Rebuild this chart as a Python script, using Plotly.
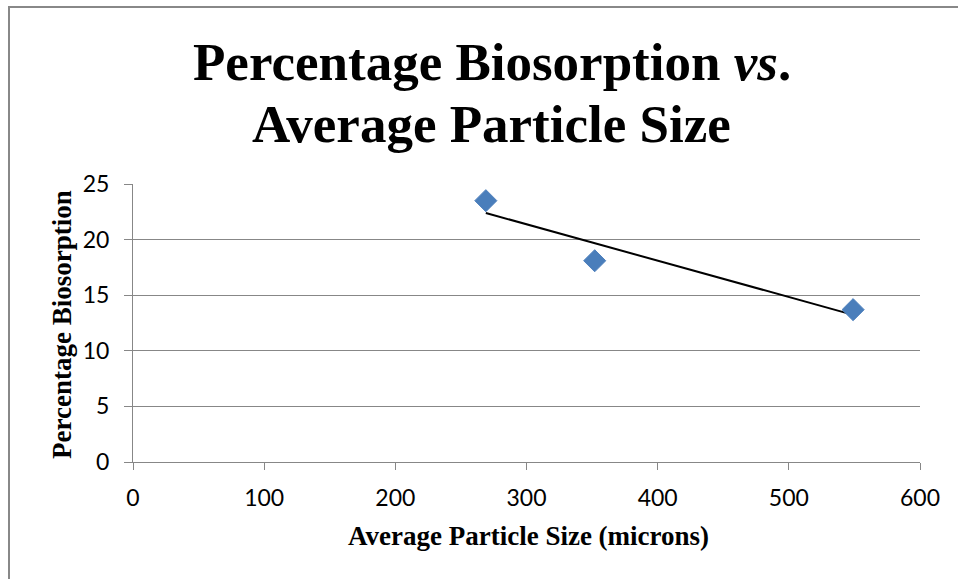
import numpy as np
import plotly.graph_objects as go

particle_size = [269, 352, 549]
biosorption = [23.5, 18.1, 13.7]
x_ticks = [0, 100, 200, 300, 400, 500, 600]
y_ticks = [0, 5, 10, 15, 20, 25]
r2_label = "R² = 0.9197"

xs = np.array(particle_size, dtype=float)
ys = np.array(biosorption, dtype=float)
slope, intercept = np.polyfit(xs, ys, 1)
trend_x = [xs.min(), xs.max()]
trend_y = [slope * v + intercept for v in trend_x]

# plot area in pixels
L, R, T, B = 133, 920, 184, 462
W, H = R - L, B - T
def px(x): return (x - L) / W
def py(y): return (B - y) / H

grid = "#878787"
serif = "Liberation Serif"
sans = "Lato"
fig = go.Figure()
fig.add_trace(go.Scatter(x=trend_x, y=trend_y, mode="lines",
                         line=dict(color="black", width=2), showlegend=False))
fig.add_trace(go.Scatter(x=particle_size, y=biosorption, mode="markers",
                         marker=dict(symbol="diamond", size=17, color="#4A7EBB",
                                     line=dict(color="#4F81BD", width=1)),
                         showlegend=False))

fig.update_layout(
    width=958, height=579,
    margin=dict(l=L, r=958 - R, t=T, b=579 - B),
    paper_bgcolor="white", plot_bgcolor="white",
    xaxis=dict(range=[0, 600], tickvals=x_ticks, showgrid=False, zeroline=False,
               showline=True, linecolor=grid, linewidth=1,
               ticks="outside", ticklen=7, tickcolor=grid, ticklabelstandoff=8,
               tickfont=dict(family=sans, size=23, color="black")),
    yaxis=dict(range=[0, 25], tickvals=y_ticks, showgrid=True, gridcolor=grid, gridwidth=1,
               zeroline=False, showline=True, linecolor=grid, linewidth=1,
               ticks="outside", ticklen=8, tickcolor=grid, ticklabelstandoff=10,
               tickfont=dict(family=sans, size=23, color="black")),
    shapes=[dict(type="rect", xref="paper", yref="paper",
                 x0=px(9), x1=px(1000), y0=py(700), y1=py(7),
                 line=dict(color="#888888", width=2), fillcolor="rgba(0,0,0,0)", layer="below")],
    annotations=[
        dict(text="<b>Percentage Biosorption <i>vs</i>.</b>", x=px(492), y=py(62),
             xref="paper", yref="paper", showarrow=False, xanchor="center", yanchor="middle",
             font=dict(family=serif, size=53, color="black")),
        dict(text="<b>Average Particle Size</b>", x=px(491), y=py(124),
             xref="paper", yref="paper", showarrow=False, xanchor="center", yanchor="middle",
             font=dict(family=serif, size=53, color="black")),
        dict(text="<b>Average Particle Size (microns)</b>", x=px(528), y=py(536),
             xref="paper", yref="paper", showarrow=False, xanchor="center", yanchor="middle",
             font=dict(family=serif, size=27, color="black")),
        dict(text="<b>Percentage Biosorption</b>", x=px(62), y=py(325), textangle=-90,
             xref="paper", yref="paper", showarrow=False, xanchor="center", yanchor="middle",
             font=dict(family=serif, size=27, color="black")),
        dict(text=r2_label, x=810, y=22.85, xref="x", yref="y", showarrow=False,
             font=dict(family=sans, size=22, color="black")),
    ],
)
fig.write_html("out.html")
